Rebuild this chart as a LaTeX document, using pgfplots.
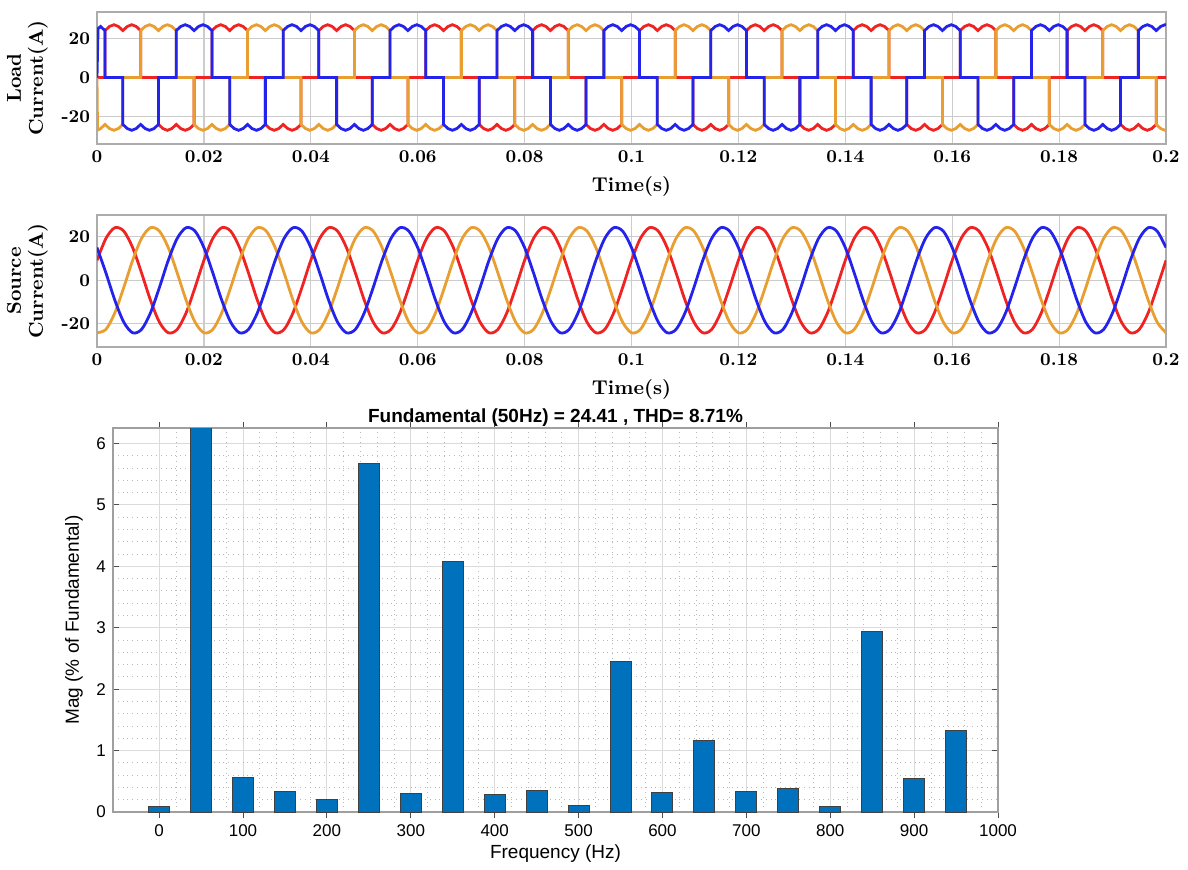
\documentclass[border=0pt]{standalone}
\usepackage{pgfplots}
\usepackage{pgfplotstable}
\pgfplotsset{compat=1.18}
\usepackage{fontspec}
\newfontfamily\arial{Liberation Sans}

\definecolor{phA}{RGB}{240,35,35}
\definecolor{phB}{RGB}{232,158,48}
\definecolor{phC}{RGB}{35,35,235}
\definecolor{barblue}{RGB}{0,114,189}

\pgfplotsset{
  wave/.style={
    scale only axis, width=534.5pt, height=66pt, anchor=north west,
    xmin=0, xmax=0.2,
    xtick={0,0.02,0.04,0.06,0.08,0.1,0.12,0.14,0.16,0.18,0.2},
    xticklabels={0,0.02,0.04,0.06,0.08,0.1,0.12,0.14,0.16,0.18,0.2},
    ytick={-20,0,20}, yticklabels={-20,0,20},
    grid=major, major grid style={gray!40, line width=0.6pt},
    axis line style={gray!65, line width=0.8pt},
    major tick length=0pt,
    tick label style={font=\fontsize{9}{10}\selectfont\bfseries},
    label style={font=\fontsize{10}{11}\selectfont\bfseries},
    ylabel style={align=center},
    xlabel={Time(s)},
    every axis plot/.append style={line width=1.4pt},
  }
}

% source currents, 50 Hz, three phases
\pgfplotstableread[row sep=\\]{
t r o b\\
0 9.14 -24.16 15.02\\ 0.001667 19.23 -22.62 3.40\\ 0.003333 24.16 -15.02 -9.14\\ 0.005 22.62 -3.40 -19.23\\
0.006667 15.02 9.14 -24.16\\ 0.008333 3.40 19.23 -22.62\\ 0.01 -9.14 24.16 -15.02\\ 0.011667 -19.23 22.62 -3.40\\
0.013333 -24.16 15.02 9.14\\ 0.015 -22.62 3.40 19.23\\ 0.016667 -15.02 -9.14 24.16\\ 0.018333 -3.40 -19.23 22.62\\
0.02 9.14 -24.16 15.02\\ 0.021667 19.23 -22.62 3.40\\ 0.023333 24.16 -15.02 -9.14\\ 0.025 22.62 -3.40 -19.23\\
0.026667 15.02 9.14 -24.16\\ 0.028333 3.40 19.23 -22.62\\ 0.03 -9.14 24.16 -15.02\\ 0.031667 -19.23 22.62 -3.40\\
0.033333 -24.16 15.02 9.14\\ 0.035 -22.62 3.40 19.23\\ 0.036667 -15.02 -9.14 24.16\\ 0.038333 -3.40 -19.23 22.62\\
0.04 9.14 -24.16 15.02\\ 0.041667 19.23 -22.62 3.40\\ 0.043333 24.16 -15.02 -9.14\\ 0.045 22.62 -3.40 -19.23\\
0.046667 15.02 9.14 -24.16\\ 0.048333 3.40 19.23 -22.62\\ 0.05 -9.14 24.16 -15.02\\ 0.051667 -19.23 22.62 -3.40\\
0.053333 -24.16 15.02 9.14\\ 0.055 -22.62 3.40 19.23\\ 0.056667 -15.02 -9.14 24.16\\ 0.058333 -3.40 -19.23 22.62\\
0.06 9.14 -24.16 15.02\\ 0.061667 19.23 -22.62 3.40\\ 0.063333 24.16 -15.02 -9.14\\ 0.065 22.62 -3.40 -19.23\\
0.066667 15.02 9.14 -24.16\\ 0.068333 3.40 19.23 -22.62\\ 0.07 -9.14 24.16 -15.02\\ 0.071667 -19.23 22.62 -3.40\\
0.073333 -24.16 15.02 9.14\\ 0.075 -22.62 3.40 19.23\\ 0.076667 -15.02 -9.14 24.16\\ 0.078333 -3.40 -19.23 22.62\\
0.08 9.14 -24.16 15.02\\ 0.081667 19.23 -22.62 3.40\\ 0.083333 24.16 -15.02 -9.14\\ 0.085 22.62 -3.40 -19.23\\
0.086667 15.02 9.14 -24.16\\ 0.088333 3.40 19.23 -22.62\\ 0.09 -9.14 24.16 -15.02\\ 0.091667 -19.23 22.62 -3.40\\
0.093333 -24.16 15.02 9.14\\ 0.095 -22.62 3.40 19.23\\ 0.096667 -15.02 -9.14 24.16\\ 0.098333 -3.40 -19.23 22.62\\
0.1 9.14 -24.16 15.02\\ 0.101667 19.23 -22.62 3.40\\ 0.103333 24.16 -15.02 -9.14\\ 0.105 22.62 -3.40 -19.23\\
0.106667 15.02 9.14 -24.16\\ 0.108333 3.40 19.23 -22.62\\ 0.11 -9.14 24.16 -15.02\\ 0.111667 -19.23 22.62 -3.40\\
0.113333 -24.16 15.02 9.14\\ 0.115 -22.62 3.40 19.23\\ 0.116667 -15.02 -9.14 24.16\\ 0.118333 -3.40 -19.23 22.62\\
0.12 9.14 -24.16 15.02\\ 0.121667 19.23 -22.62 3.40\\ 0.123333 24.16 -15.02 -9.14\\ 0.125 22.62 -3.40 -19.23\\
0.126667 15.02 9.14 -24.16\\ 0.128333 3.40 19.23 -22.62\\ 0.13 -9.14 24.16 -15.02\\ 0.131667 -19.23 22.62 -3.40\\
0.133333 -24.16 15.02 9.14\\ 0.135 -22.62 3.40 19.23\\ 0.136667 -15.02 -9.14 24.16\\ 0.138333 -3.40 -19.23 22.62\\
0.14 9.14 -24.16 15.02\\ 0.141667 19.23 -22.62 3.40\\ 0.143333 24.16 -15.02 -9.14\\ 0.145 22.62 -3.40 -19.23\\
0.146667 15.02 9.14 -24.16\\ 0.148333 3.40 19.23 -22.62\\ 0.15 -9.14 24.16 -15.02\\ 0.151667 -19.23 22.62 -3.40\\
0.153333 -24.16 15.02 9.14\\ 0.155 -22.62 3.40 19.23\\ 0.156667 -15.02 -9.14 24.16\\ 0.158333 -3.40 -19.23 22.62\\
0.16 9.14 -24.16 15.02\\ 0.161667 19.23 -22.62 3.40\\ 0.163333 24.16 -15.02 -9.14\\ 0.165 22.62 -3.40 -19.23\\
0.166667 15.02 9.14 -24.16\\ 0.168333 3.40 19.23 -22.62\\ 0.17 -9.14 24.16 -15.02\\ 0.171667 -19.23 22.62 -3.40\\
0.173333 -24.16 15.02 9.14\\ 0.175 -22.62 3.40 19.23\\ 0.176667 -15.02 -9.14 24.16\\ 0.178333 -3.40 -19.23 22.62\\
0.18 9.14 -24.16 15.02\\ 0.181667 19.23 -22.62 3.40\\ 0.183333 24.16 -15.02 -9.14\\ 0.185 22.62 -3.40 -19.23\\
0.186667 15.02 9.14 -24.16\\ 0.188333 3.40 19.23 -22.62\\ 0.19 -9.14 24.16 -15.02\\ 0.191667 -19.23 22.62 -3.40\\
0.193333 -24.16 15.02 9.14\\ 0.195 -22.62 3.40 19.23\\ 0.196667 -15.02 -9.14 24.16\\ 0.198333 -3.40 -19.23 22.62\\
0.2 9.14 -24.16 15.02\\
}\srcdata

\begin{document}
\begin{tikzpicture}
\path (0,0) (594pt,-431pt);

% ---- load current ----
\begin{axis}[wave, at={(48.5pt,-6pt)}, ymin=-34, ymax=33.5,
  ylabel={Load\\Current(A)}]
\addplot[phA] table[row sep=\\] {
t i\\ 0 0\\
0.0015 0\\0.0015 24\\0.002333 26.1\\0.003167 27\\0.004 26.1\\0.004833 24\\0.005667 26.1\\0.0065 27\\0.007333 26.1\\0.008167 24\\0.008167 0\\
0.0115 0\\0.0115 -24\\0.012333 -26.1\\0.013167 -27\\0.014 -26.1\\0.014833 -24\\0.015667 -26.1\\0.0165 -27\\0.017333 -26.1\\0.018167 -24\\0.018167 0\\
0.0215 0\\0.0215 24\\0.022333 26.1\\0.023167 27\\0.024 26.1\\0.024833 24\\0.025667 26.1\\0.0265 27\\0.027333 26.1\\0.028167 24\\0.028167 0\\
0.0315 0\\0.0315 -24\\0.032333 -26.1\\0.033167 -27\\0.034 -26.1\\0.034833 -24\\0.035667 -26.1\\0.0365 -27\\0.037333 -26.1\\0.038167 -24\\0.038167 0\\
0.0415 0\\0.0415 24\\0.042333 26.1\\0.043167 27\\0.044 26.1\\0.044833 24\\0.045667 26.1\\0.0465 27\\0.047333 26.1\\0.048167 24\\0.048167 0\\
0.0515 0\\0.0515 -24\\0.052333 -26.1\\0.053167 -27\\0.054 -26.1\\0.054833 -24\\0.055667 -26.1\\0.0565 -27\\0.057333 -26.1\\0.058167 -24\\0.058167 0\\
0.0615 0\\0.0615 24\\0.062333 26.1\\0.063167 27\\0.064 26.1\\0.064833 24\\0.065667 26.1\\0.0665 27\\0.067333 26.1\\0.068167 24\\0.068167 0\\
0.0715 0\\0.0715 -24\\0.072333 -26.1\\0.073167 -27\\0.074 -26.1\\0.074833 -24\\0.075667 -26.1\\0.0765 -27\\0.077333 -26.1\\0.078167 -24\\0.078167 0\\
0.0815 0\\0.0815 24\\0.082333 26.1\\0.083167 27\\0.084 26.1\\0.084833 24\\0.085667 26.1\\0.0865 27\\0.087333 26.1\\0.088167 24\\0.088167 0\\
0.0915 0\\0.0915 -24\\0.092333 -26.1\\0.093167 -27\\0.094 -26.1\\0.094833 -24\\0.095667 -26.1\\0.0965 -27\\0.097333 -26.1\\0.098167 -24\\0.098167 0\\
0.1015 0\\0.1015 24\\0.102333 26.1\\0.103167 27\\0.104 26.1\\0.104833 24\\0.105667 26.1\\0.1065 27\\0.107333 26.1\\0.108167 24\\0.108167 0\\
0.1115 0\\0.1115 -24\\0.112333 -26.1\\0.113167 -27\\0.114 -26.1\\0.114833 -24\\0.115667 -26.1\\0.1165 -27\\0.117333 -26.1\\0.118167 -24\\0.118167 0\\
0.1215 0\\0.1215 24\\0.122333 26.1\\0.123167 27\\0.124 26.1\\0.124833 24\\0.125667 26.1\\0.1265 27\\0.127333 26.1\\0.128167 24\\0.128167 0\\
0.1315 0\\0.1315 -24\\0.132333 -26.1\\0.133167 -27\\0.134 -26.1\\0.134833 -24\\0.135667 -26.1\\0.1365 -27\\0.137333 -26.1\\0.138167 -24\\0.138167 0\\
0.1415 0\\0.1415 24\\0.142333 26.1\\0.143167 27\\0.144 26.1\\0.144833 24\\0.145667 26.1\\0.1465 27\\0.147333 26.1\\0.148167 24\\0.148167 0\\
0.1515 0\\0.1515 -24\\0.152333 -26.1\\0.153167 -27\\0.154 -26.1\\0.154833 -24\\0.155667 -26.1\\0.1565 -27\\0.157333 -26.1\\0.158167 -24\\0.158167 0\\
0.1615 0\\0.1615 24\\0.162333 26.1\\0.163167 27\\0.164 26.1\\0.164833 24\\0.165667 26.1\\0.1665 27\\0.167333 26.1\\0.168167 24\\0.168167 0\\
0.1715 0\\0.1715 -24\\0.172333 -26.1\\0.173167 -27\\0.174 -26.1\\0.174833 -24\\0.175667 -26.1\\0.1765 -27\\0.177333 -26.1\\0.178167 -24\\0.178167 0\\
0.1815 0\\0.1815 24\\0.182333 26.1\\0.183167 27\\0.184 26.1\\0.184833 24\\0.185667 26.1\\0.1865 27\\0.187333 26.1\\0.188167 24\\0.188167 0\\
0.1915 0\\0.1915 -24\\0.192333 -26.1\\0.193167 -27\\0.194 -26.1\\0.194833 -24\\0.195667 -26.1\\0.1965 -27\\0.197333 -26.1\\0.198167 -24\\0.198167 0\\
0.2 0\\
};
\addplot[phB] table[row sep=\\] {
t i\\ 0 0\\0.0001 -26.9\\0.000667 -26.1\\0.0015 -24\\0.002333 -26.1\\0.003167 -27\\0.004 -26.1\\0.004833 -24\\0.004833 0\\
0.008167 0\\0.008167 24\\0.009 26.1\\0.009833 27\\0.010667 26.1\\0.0115 24\\0.012333 26.1\\0.013167 27\\0.014 26.1\\0.014833 24\\0.014833 0\\
0.018167 0\\0.018167 -24\\0.019 -26.1\\0.019833 -27\\0.020667 -26.1\\0.0215 -24\\0.022333 -26.1\\0.023167 -27\\0.024 -26.1\\0.024833 -24\\0.024833 0\\
0.028167 0\\0.028167 24\\0.029 26.1\\0.029833 27\\0.030667 26.1\\0.0315 24\\0.032333 26.1\\0.033167 27\\0.034 26.1\\0.034833 24\\0.034833 0\\
0.038167 0\\0.038167 -24\\0.039 -26.1\\0.039833 -27\\0.040667 -26.1\\0.0415 -24\\0.042333 -26.1\\0.043167 -27\\0.044 -26.1\\0.044833 -24\\0.044833 0\\
0.048167 0\\0.048167 24\\0.049 26.1\\0.049833 27\\0.050667 26.1\\0.0515 24\\0.052333 26.1\\0.053167 27\\0.054 26.1\\0.054833 24\\0.054833 0\\
0.058167 0\\0.058167 -24\\0.059 -26.1\\0.059833 -27\\0.060667 -26.1\\0.0615 -24\\0.062333 -26.1\\0.063167 -27\\0.064 -26.1\\0.064833 -24\\0.064833 0\\
0.068167 0\\0.068167 24\\0.069 26.1\\0.069833 27\\0.070667 26.1\\0.0715 24\\0.072333 26.1\\0.073167 27\\0.074 26.1\\0.074833 24\\0.074833 0\\
0.078167 0\\0.078167 -24\\0.079 -26.1\\0.079833 -27\\0.080667 -26.1\\0.0815 -24\\0.082333 -26.1\\0.083167 -27\\0.084 -26.1\\0.084833 -24\\0.084833 0\\
0.088167 0\\0.088167 24\\0.089 26.1\\0.089833 27\\0.090667 26.1\\0.0915 24\\0.092333 26.1\\0.093167 27\\0.094 26.1\\0.094833 24\\0.094833 0\\
0.098167 0\\0.098167 -24\\0.099 -26.1\\0.099833 -27\\0.100667 -26.1\\0.1015 -24\\0.102333 -26.1\\0.103167 -27\\0.104 -26.1\\0.104833 -24\\0.104833 0\\
0.108167 0\\0.108167 24\\0.109 26.1\\0.109833 27\\0.110667 26.1\\0.1115 24\\0.112333 26.1\\0.113167 27\\0.114 26.1\\0.114833 24\\0.114833 0\\
0.118167 0\\0.118167 -24\\0.119 -26.1\\0.119833 -27\\0.120667 -26.1\\0.1215 -24\\0.122333 -26.1\\0.123167 -27\\0.124 -26.1\\0.124833 -24\\0.124833 0\\
0.128167 0\\0.128167 24\\0.129 26.1\\0.129833 27\\0.130667 26.1\\0.1315 24\\0.132333 26.1\\0.133167 27\\0.134 26.1\\0.134833 24\\0.134833 0\\
0.138167 0\\0.138167 -24\\0.139 -26.1\\0.139833 -27\\0.140667 -26.1\\0.1415 -24\\0.142333 -26.1\\0.143167 -27\\0.144 -26.1\\0.144833 -24\\0.144833 0\\
0.148167 0\\0.148167 24\\0.149 26.1\\0.149833 27\\0.150667 26.1\\0.1515 24\\0.152333 26.1\\0.153167 27\\0.154 26.1\\0.154833 24\\0.154833 0\\
0.158167 0\\0.158167 -24\\0.159 -26.1\\0.159833 -27\\0.160667 -26.1\\0.1615 -24\\0.162333 -26.1\\0.163167 -27\\0.164 -26.1\\0.164833 -24\\0.164833 0\\
0.168167 0\\0.168167 24\\0.169 26.1\\0.169833 27\\0.170667 26.1\\0.1715 24\\0.172333 26.1\\0.173167 27\\0.174 26.1\\0.174833 24\\0.174833 0\\
0.178167 0\\0.178167 -24\\0.179 -26.1\\0.179833 -27\\0.180667 -26.1\\0.1815 -24\\0.182333 -26.1\\0.183167 -27\\0.184 -26.1\\0.184833 -24\\0.184833 0\\
0.188167 0\\0.188167 24\\0.189 26.1\\0.189833 27\\0.190667 26.1\\0.1915 24\\0.192333 26.1\\0.193167 27\\0.194 26.1\\0.194833 24\\0.194833 0\\
0.198167 0\\0.198167 -24\\0.199 -26.1\\0.199833 -27\\0.2 -26.9\\
};
\addplot[phC] table[row sep=\\] {
t i\\ 0 0\\0.0002 25\\0.000667 26.1\\0.0015 24\\0.0015 0\\
0.004833 0\\0.004833 -24\\0.005667 -26.1\\0.0065 -27\\0.007333 -26.1\\0.008167 -24\\0.009 -26.1\\0.009833 -27\\0.010667 -26.1\\0.0115 -24\\0.0115 0\\
0.014833 0\\0.014833 24\\0.015667 26.1\\0.0165 27\\0.017333 26.1\\0.018167 24\\0.019 26.1\\0.019833 27\\0.020667 26.1\\0.0215 24\\0.0215 0\\
0.024833 0\\0.024833 -24\\0.025667 -26.1\\0.0265 -27\\0.027333 -26.1\\0.028167 -24\\0.029 -26.1\\0.029833 -27\\0.030667 -26.1\\0.0315 -24\\0.0315 0\\
0.034833 0\\0.034833 24\\0.035667 26.1\\0.0365 27\\0.037333 26.1\\0.038167 24\\0.039 26.1\\0.039833 27\\0.040667 26.1\\0.0415 24\\0.0415 0\\
0.044833 0\\0.044833 -24\\0.045667 -26.1\\0.0465 -27\\0.047333 -26.1\\0.048167 -24\\0.049 -26.1\\0.049833 -27\\0.050667 -26.1\\0.0515 -24\\0.0515 0\\
0.054833 0\\0.054833 24\\0.055667 26.1\\0.0565 27\\0.057333 26.1\\0.058167 24\\0.059 26.1\\0.059833 27\\0.060667 26.1\\0.0615 24\\0.0615 0\\
0.064833 0\\0.064833 -24\\0.065667 -26.1\\0.0665 -27\\0.067333 -26.1\\0.068167 -24\\0.069 -26.1\\0.069833 -27\\0.070667 -26.1\\0.0715 -24\\0.0715 0\\
0.074833 0\\0.074833 24\\0.075667 26.1\\0.0765 27\\0.077333 26.1\\0.078167 24\\0.079 26.1\\0.079833 27\\0.080667 26.1\\0.0815 24\\0.0815 0\\
0.084833 0\\0.084833 -24\\0.085667 -26.1\\0.0865 -27\\0.087333 -26.1\\0.088167 -24\\0.089 -26.1\\0.089833 -27\\0.090667 -26.1\\0.0915 -24\\0.0915 0\\
0.094833 0\\0.094833 24\\0.095667 26.1\\0.0965 27\\0.097333 26.1\\0.098167 24\\0.099 26.1\\0.099833 27\\0.100667 26.1\\0.1015 24\\0.1015 0\\
0.104833 0\\0.104833 -24\\0.105667 -26.1\\0.1065 -27\\0.107333 -26.1\\0.108167 -24\\0.109 -26.1\\0.109833 -27\\0.110667 -26.1\\0.1115 -24\\0.1115 0\\
0.114833 0\\0.114833 24\\0.115667 26.1\\0.1165 27\\0.117333 26.1\\0.118167 24\\0.119 26.1\\0.119833 27\\0.120667 26.1\\0.1215 24\\0.1215 0\\
0.124833 0\\0.124833 -24\\0.125667 -26.1\\0.1265 -27\\0.127333 -26.1\\0.128167 -24\\0.129 -26.1\\0.129833 -27\\0.130667 -26.1\\0.1315 -24\\0.1315 0\\
0.134833 0\\0.134833 24\\0.135667 26.1\\0.1365 27\\0.137333 26.1\\0.138167 24\\0.139 26.1\\0.139833 27\\0.140667 26.1\\0.1415 24\\0.1415 0\\
0.144833 0\\0.144833 -24\\0.145667 -26.1\\0.1465 -27\\0.147333 -26.1\\0.148167 -24\\0.149 -26.1\\0.149833 -27\\0.150667 -26.1\\0.1515 -24\\0.1515 0\\
0.154833 0\\0.154833 24\\0.155667 26.1\\0.1565 27\\0.157333 26.1\\0.158167 24\\0.159 26.1\\0.159833 27\\0.160667 26.1\\0.1615 24\\0.1615 0\\
0.164833 0\\0.164833 -24\\0.165667 -26.1\\0.1665 -27\\0.167333 -26.1\\0.168167 -24\\0.169 -26.1\\0.169833 -27\\0.170667 -26.1\\0.1715 -24\\0.1715 0\\
0.174833 0\\0.174833 24\\0.175667 26.1\\0.1765 27\\0.177333 26.1\\0.178167 24\\0.179 26.1\\0.179833 27\\0.180667 26.1\\0.1815 24\\0.1815 0\\
0.184833 0\\0.184833 -24\\0.185667 -26.1\\0.1865 -27\\0.187333 -26.1\\0.188167 -24\\0.189 -26.1\\0.189833 -27\\0.190667 -26.1\\0.1915 -24\\0.1915 0\\
0.194833 0\\0.194833 24\\0.195667 26.1\\0.1965 27\\0.197333 26.1\\0.198167 24\\0.199 26.1\\0.199833 27\\0.2 26.9\\
};
\end{axis}

% ---- source current ----
\begin{axis}[wave, at={(48.5pt,-107.5pt)}, ymin=-30.7, ymax=30,
  ylabel={Source\\Current(A)}]
\addplot[phA, smooth] table[x=t, y=r] {\srcdata};
\addplot[phB, smooth] table[x=t, y=o] {\srcdata};
\addplot[phC, smooth] table[x=t, y=b] {\srcdata};
\end{axis}

% ---- FFT spectrum ----
\begin{axis}[
  at={(56.5pt,-214pt)}, anchor=north west,
  scale only axis, width=442.5pt, height=192pt,
  xmin=-55, xmax=1000, ymin=0, ymax=6.25,
  xtick={0,100,200,300,400,500,600,700,800,900,1000},
  ytick={0,1,2,3,4,5,6},
  minor x tick num=4, minor y tick num=4,
  grid=both,
  major grid style={gray!28, line width=0.5pt},
  minor grid style={gray!55, dotted, line width=0.4pt},
  tick align=inside, major tick length=3pt, minor tick length=0pt,
  xtick pos=both, ytick pos=both,
  axis line style={gray!75, line width=0.6pt},
  tick style={black!70, line width=0.5pt},
  /pgf/number format/assume math mode=true,
  /pgf/number format/1000 sep={},
  tick label style={font=\arial\fontsize{8.5}{10}\selectfont},
  label style={font=\arial\fontsize{9.5}{11}\selectfont},
  xlabel={Frequency (Hz)},
  xlabel style={yshift=3pt},
  ylabel={Mag (\% of Fundamental)},
  title={Fundamental (50Hz) = 24.41 , THD= 8.71\%},
  title style={font=\arial\bfseries\fontsize{9.5}{11}\selectfont, yshift=-9pt},
  ybar, bar width=25,
]
\addplot[fill=barblue, draw=black!75, line width=0.5pt] coordinates {
  (0,0.09) (50,100) (100,0.56) (150,0.33) (200,0.21) (250,5.67) (300,0.30)
  (350,4.08) (400,0.28) (450,0.35) (500,0.10) (550,2.45) (600,0.32) (650,1.17)
  (700,0.33) (750,0.38) (800,0.09) (850,2.93) (900,0.55) (950,1.33)
};
\end{axis}
\end{tikzpicture}
\end{document}
